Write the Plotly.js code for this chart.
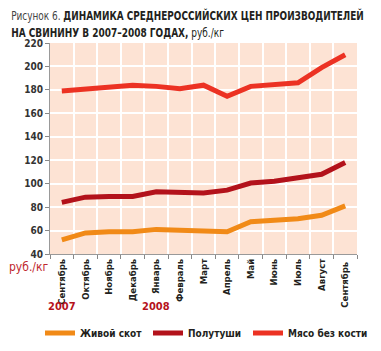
<!DOCTYPE html>
<html>
<head>
<meta charset="utf-8">
<script src="https://cdn.plot.ly/plotly-3.0.1.min.js"></script>
<style>html,body{margin:0;padding:0;background:#fff;}#chart{width:381px;height:351px;}</style>
</head>
<body>
<div id="chart"></div>
<script>
var months = ["Сентябрь","Октябрь","Ноябрь","Декабрь","Январь","Февраль","Март","Апрель","Май","Июнь","Июль","Август","Сентябрь "];
var monthKeys = ["s07","o07","n07","d07","j08","f08","m08","a08","my08","jn08","jl08","au08","s08"];
var livestock = [52, 58, 59, 59, 61, 60.5, 60.5, 59, 67.5, 68.5, 70, 73, 81];
var halfCarcass = [84, 88.5, 89, 89, 93, 92, 92, 94.5, 100.5, 102, 104.5, 108, 118];
var boneless = [179, 181, 182, 184, 183, 181, 184, 174.5, 183, 184, 186, 199, 210];
var seriesNames = ["Живой скот", "Полутуши", "Мясо без кости"];
var colors = ["#f18a17", "#b3121b", "#ec3223"];
var yTicks = [40, 60, 80, 100, 120, 140, 160, 180, 200, 220];
var yearLabels = ["2007", "2008"];
var yearAt = ["s07", "j08"];
var titleLine1 = "<span style='font-weight:normal;color:#444'>Рисунок 6.</span> <b>ДИНАМИКА СРЕДНЕРОССИЙСКИХ ЦЕН ПРОИЗВОДИТЕЛЕЙ</b>";
var titleLine2 = "<b>НА СВИНИНУ В 2007–2008 ГОДАХ,</b> <span style='font-weight:normal'>руб./кг</span>";

var W = 381, H = 351, ML = 50, MR = 24, MT = 43, MB = 97;
var PW = W - ML - MR, PH = H - MT - MB;
function px(x){ return (x - ML) / PW; }
function py(y){ return (H - MB - y) / PH; }
var narrow = "DejaVu Sans Condensed, sans-serif";
var legendIds = ["legend", "legend2", "legend3"];
var legendLeft = [40, 148, 248];
var seriesData = [livestock, halfCarcass, boneless];
var traces = seriesData.map(function(vals, i){
  return {x: monthKeys, y: vals, type: "scatter", mode: "lines", name: seriesNames[i],
    legend: legendIds[i], line: {color: colors[i], width: 5}};
});

// target widths (px) for horizontally condensing the title lines
var titleWidths = [353, 213];

var annotations = [
  {text: titleLine1, xref: "paper", yref: "paper", x: px(9), y: py(16),
   xanchor: "left", yanchor: "middle", showarrow: false,
   font: {family: narrow, size: 13, color: "#231f20"}},
  {text: titleLine2, xref: "paper", yref: "paper", x: px(9), y: py(33),
   xanchor: "left", yanchor: "middle", showarrow: false,
   font: {family: narrow, size: 13, color: "#231f20"}},
  {text: "руб./кг", xref: "paper", yref: "paper", x: px(28), y: py(267),
   xanchor: "center", yanchor: "middle", showarrow: false,
   font: {family: narrow, size: 12, color: "#c0272d"}}
];
yearLabels.forEach(function(t, i){
  annotations.push({text: "<b>" + t + "</b>", xref: "x", yref: "paper", x: yearAt[i], y: py(306),
    xanchor: "center", yanchor: "middle", showarrow: false,
    font: {family: narrow, size: 11, color: "#b5121b"}});
});

var layout = {
  width: W, height: H,
  margin: {l: ML, r: MR, t: MT, b: MB, autoexpand: false},
  paper_bgcolor: "#ffffff", plot_bgcolor: "#fde3d4",
  xaxis: {
    type: "category", tickvals: monthKeys, ticktext: months, range: [-0.5, 12.5],
    tickson: "boundaries", ticks: "outside", ticklen: 4, tickcolor: "#888",
    tickangle: -90, showline: true, linecolor: "#999", linewidth: 1,
    showgrid: true, gridcolor: "#ffffff", gridwidth: 2,
    tickfont: {family: narrow, size: 9.5, color: "#231f20", weight: "bold"},
    fixedrange: true, zeroline: false, automargin: false
  },
  yaxis: {
    range: [40, 220], tickvals: yTicks, ticks: "outside", ticklen: 4, tickcolor: "#888",
    showline: true, linecolor: "#999", linewidth: 1,
    showgrid: true, gridcolor: "#ffffff", gridwidth: 2,
    tickfont: {family: narrow, size: 10, color: "#333", weight: "bold"},
    zeroline: false, fixedrange: true, automargin: false
  },
  showlegend: true,
  annotations: annotations
};
legendIds.forEach(function(id, i){
  layout[id] = {
    orientation: "h", xref: "container", yref: "container", x: legendLeft[i] / W, y: 1 - 333 / H,
    xanchor: "left", yanchor: "middle",
    font: {family: narrow, size: 10, color: "#231f20", weight: "bold"},
    bgcolor: "rgba(0,0,0,0)"
  };
});
Plotly.newPlot("chart", traces, layout, {displayModeBar: false, staticPlot: true}).then(function(gd){
  var texts = gd.querySelectorAll("g.annotation text.annotation-text");
  titleWidths.forEach(function(tw, i){
    var t = texts[i];
    if (!t) return;
    var bb = t.getBBox();
    if (bb.width <= 0) return;
    var s = tw / bb.width;
    t.setAttribute("transform", "translate(" + bb.x + ",0) scale(" + s + ",1) translate(" + (-bb.x) + ",0)");
  });
});
</script>
</body>
</html>
